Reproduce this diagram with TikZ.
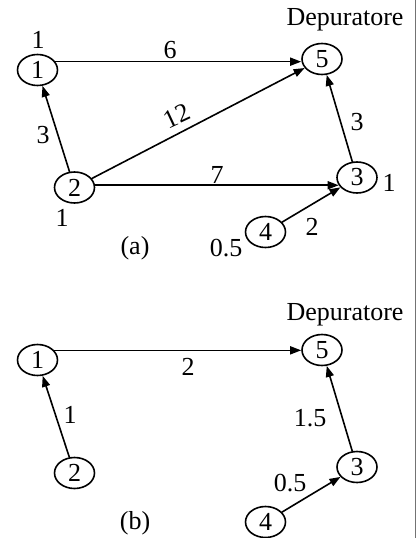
\documentclass[tikz,border=0pt]{standalone}
\usepackage{fontspec}
\setmainfont{Liberation Serif}
\usetikzlibrary{arrows.meta,shapes.geometric}
\definecolor{qqqqqq}{rgb}{0.,0.,0.}
\definecolor{bordgray}{rgb}{0.45,0.45,0.45}

\begin{document}
\begin{tikzpicture}[line cap=round,line join=round,x=1pt,y=1pt,
        font=\fontsize{26}{30}\selectfont,
        vertex/.style={draw=qqqqqq,line width=1.6pt,ellipse,minimum width=40pt,minimum height=31pt,inner sep=0pt},
        flow/.style={line width=1.6pt,-{Triangle[length=11pt,width=8pt]},color=qqqqqq},
        lbl/.style={inner sep=0pt}]
        \useasboundingbox (0,0) rectangle (417,-538);
        \draw [line width=1pt,color=bordgray] (415.5,0)-- (415.5,-538);
        \node[vertex] (a1) at (37.5,-70) {1};
        \node[vertex] (a5) at (322,-59) {5};
        \node[vertex] (a2) at (74.5,-187.5) {2};
        \node[vertex] (a3) at (357,-177.5) {3};
        \node[vertex] (a4) at (265.5,-232) {4};
        \draw [flow] (a1.25)-- (a1.25 -| a5.west);
        \draw [flow] (a2)-- (a1);
        \draw [flow] (a2)-- (a5);
        \draw [flow] (a3.203 -| a2.east)-- (a3.203);
        \draw [flow] (a3)-- (a5);
        \draw [flow] (a4)-- (a3);
        \node[lbl] (adep) at (345,-20) {Depuratore};
        \node[lbl] (aw1) at (38,-40) {1};
        \node[lbl] (aw2) at (62,-218) {1};
        \node[lbl] (aw3) at (389,-183) {1};
        \node[lbl] (aw4) at (226,-248) {0.5};
        \node[lbl] (ac15) at (170,-50) {6};
        \node[lbl] (ac21) at (43,-135) {3};
        \node[lbl,rotate=25] (ac25) at (177,-116) {12};
        \node[lbl] (ac23) at (217,-175) {7};
        \node[lbl] (ac35) at (357,-122) {3};
        \node[lbl] (ac43) at (312,-227) {2};
        \node[lbl] (acapa) at (135,-248) {(a)};
        \node[vertex] (b1) at (37.5,-360) {1};
        \node[vertex] (b5) at (322,-350) {5};
        \node[vertex] (b2) at (74.5,-473) {2};
        \node[vertex] (b3) at (357,-467) {3};
        \node[vertex] (b4) at (265.5,-522) {4};
        \draw [flow] (b1.30)-- (b1.30 -| b5.west);
        \draw [flow] (b2)-- (b1);
        \draw [flow] (b3)-- (b5);
        \draw [flow] (b4)-- (b3);
        \node[lbl] (bdep) at (345,-315) {Depuratore};
        \node[lbl] (bc15) at (188,-367) {2};
        \node[lbl] (bc21) at (70,-415) {1};
        \node[lbl] (bc35) at (310,-418) {1.5};
        \node[lbl] (bc43) at (290,-483) {0.5};
        \node[lbl] (bcapb) at (135,-523) {(b)};
    \end{tikzpicture}
\end{document}
